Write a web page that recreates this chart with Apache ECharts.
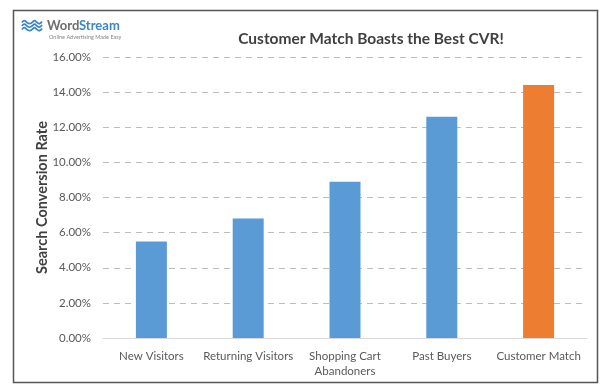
<!DOCTYPE html>
<html><head><meta charset="utf-8">
<script src="https://cdn.jsdelivr.net/npm/echarts@6/dist/echarts.min.js"></script>
<style>html,body{margin:0;padding:0;background:#fff}#c{width:609px;height:391px}</style>
</head><body><div id="c"></div>
<script>
const categories = ['New Visitors', 'Returning Visitors', 'Shopping Cart\nAbandoners', 'Past Buyers', 'Customer Match'];
const values = [5.5, 6.8, 8.9, 12.6, 14.4];
const barColors = ['#5b9bd5', '#5b9bd5', '#5b9bd5', '#5b9bd5', '#ed7d31'];
const chart = echarts.init(document.getElementById('c'));
const font = 'Lato, "Open Sans", sans-serif';
function wave(y) {
  return { type: 'polyline', shape: { points: [[22, y], [24.5, y - 1.8], [27, y], [29.5, y + 1.2], [32, y], [34.5, y - 1.8], [37, y], [39.5, y + 1.2], [42, y - 1]], smooth: 0.5 },
    style: { fill: null, stroke: '#3a86c8', lineWidth: 1.8 } };
}
chart.setOption({
  animation: false,
  backgroundColor: '#fff',
  title: {
    text: 'Customer Match Boasts the Best CVR!',
    left: 366, top: 26, textAlign: 'center',
    textStyle: { fontFamily: font, fontSize: 15.5, fontWeight: 'bold', color: '#404040' }
  },
  graphic: [
    { type: 'rect', shape: { x: 13.5, y: 10.5, width: 584, height: 372 }, style: { fill: null, stroke: '#555', lineWidth: 1.5 } },
    wave(22.5), wave(26), wave(29.5),
    { type: 'text', x: 47, y: 19, style: { text: 'Word', font: 'bold 13px Lato, sans-serif', fill: '#6d6d6d' } },
    { type: 'text', x: 79, y: 19, style: { text: 'Stream', font: 'bold 13px Lato, sans-serif', fill: '#3a86c8' } },
    { type: 'text', x: 49, y: 34, style: { text: 'Online Advertising Made Easy', font: '5.5px Lato, sans-serif', fill: '#888' } }
  ],
  grid: { left: 103, right: 22, top: 57, bottom: 53 },
  xAxis: {
    type: 'category', data: categories,
    axisLine: { lineStyle: { color: '#d9d9d9' } },
    axisTick: { show: false },
    axisLabel: { color: '#595959', fontFamily: font, fontSize: 11.5, margin: 11, lineHeight: 15, interval: 0 }
  },
  yAxis: {
    type: 'value', min: 0, max: 16, interval: 2,
    name: 'Search Conversion Rate', nameLocation: 'middle', nameGap: 53, nameMoveOverlap: false,
    nameTextStyle: { color: '#404040', fontFamily: font, fontSize: 14.5, fontWeight: 'bold' },
    axisLine: { show: false }, axisTick: { show: false },
    axisLabel: { color: '#595959', fontFamily: font, fontSize: 11.5, margin: 12, formatter: v => v.toFixed(2) + '%' },
    splitLine: { lineStyle: { color: '#bdbdbd', type: [6, 5], width: 1.2 } }
  },
  series: [{
    type: 'bar', barWidth: 31,
    data: values.map((v, i) => ({ value: v, itemStyle: { color: barColors[i] } }))
  }]
});
</script></body></html>
